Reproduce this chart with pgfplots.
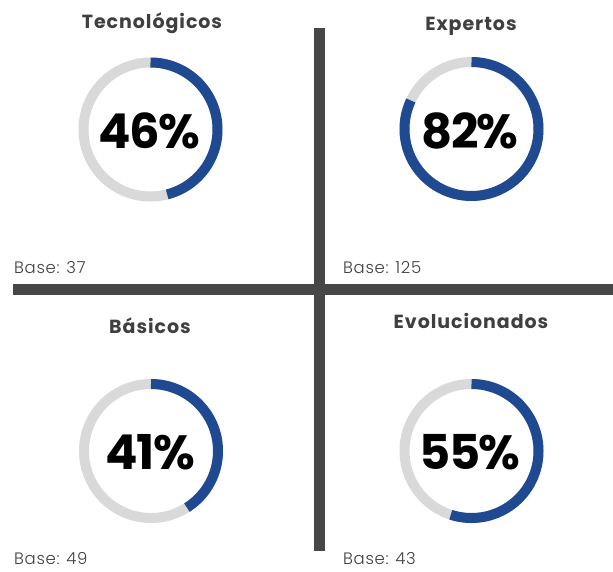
\documentclass[border=0pt]{standalone}
\usepackage{pgfplots}
\pgfplotsset{compat=1.18}
\usepackage{fontspec}
\setmainfont{Poppins}
\newfontfamily\lightfont{Poppins}[UprightFont=* Light, LetterSpace=4]
\newfontfamily\titlefont{Poppins}[UprightFont=* Bold, LetterSpace=5]
\newfontfamily\bigfont{Poppins}[UprightFont=* Bold, LetterSpace=-3]
\definecolor{gaugeblue}{HTML}{1F4A92}
\definecolor{gaugegray}{HTML}{D9D9D9}
\definecolor{linegray}{HTML}{474747}
\definecolor{titlegray}{HTML}{3F3F3F}
\newcommand{\donut}[3]{%
  \addplot[gaugegray, line width=10pt, line cap=butt, domain=0:1, samples=181, variable=\t]
    ({#1+67*cos(90-360*\t)}, {#2-67*sin(90-360*\t)});
  \addplot[gaugeblue, line width=10pt, line cap=butt, domain=0:#3/100, samples=120, variable=\t]
    ({#1+67*cos(90-360*\t)}, {#2-67*sin(90-360*\t)});
}
\begin{document}
\begin{tikzpicture}
\begin{axis}[x=1pt, y=1pt, y dir=reverse, xmin=0, xmax=613, ymin=0, ymax=571,
  hide axis, clip=false, anchor=south west, at={(0,0)}]
% separators
\draw[linegray, line width=11pt] (axis cs:319.5,28) -- (axis cs:319.5,551);
\draw[linegray, line width=11pt] (axis cs:13,289.5) -- (axis cs:613,289.5);
% donuts: center x, center y, percent
\donut{150.5}{129.5}{46}
\donut{471.5}{129}{82}
\donut{151}{451}{41}
\donut{471.5}{451}{55}
% percentages
\node[font=\bigfont\fontsize{48}{48}\selectfont] at (axis cs:149,131) {46\%};
\node[font=\bigfont\fontsize{48}{48}\selectfont] at (axis cs:470,131) {82\%};
\node[font=\bigfont\fontsize{48}{48}\selectfont] at (axis cs:150,452) {41\%};
\node[font=\bigfont\fontsize{48}{48}\selectfont] at (axis cs:470,452) {55\%};
% titles
\node[font=\titlefont\fontsize{19}{19}\selectfont, text=titlegray] at (axis cs:152,23) {Tecnológicos};
\node[font=\titlefont\fontsize{19}{19}\selectfont, text=titlegray] at (axis cs:471,26) {Expertos};
\node[font=\titlefont\fontsize{19}{19}\selectfont, text=titlegray] at (axis cs:150,326) {Básicos};
\node[font=\titlefont\fontsize{19}{19}\selectfont, text=titlegray] at (axis cs:471,321) {Evolucionados};
% bases
\node[font=\lightfont\fontsize{16.5}{16.5}\selectfont, text=titlegray, anchor=base west, inner sep=0pt] at (axis cs:14,273) {Base: 37};
\node[font=\lightfont\fontsize{16.5}{16.5}\selectfont, text=titlegray, anchor=base west, inner sep=0pt] at (axis cs:343,273) {Base: 125};
\node[font=\lightfont\fontsize{16.5}{16.5}\selectfont, text=titlegray, anchor=base west, inner sep=0pt] at (axis cs:14,564) {Base: 49};
\node[font=\lightfont\fontsize{16.5}{16.5}\selectfont, text=titlegray, anchor=base west, inner sep=0pt] at (axis cs:343,564) {Base: 43};
\end{axis}
\pgfresetboundingbox
\path (0,0) rectangle (613pt,571pt);
\end{tikzpicture}
\end{document}
